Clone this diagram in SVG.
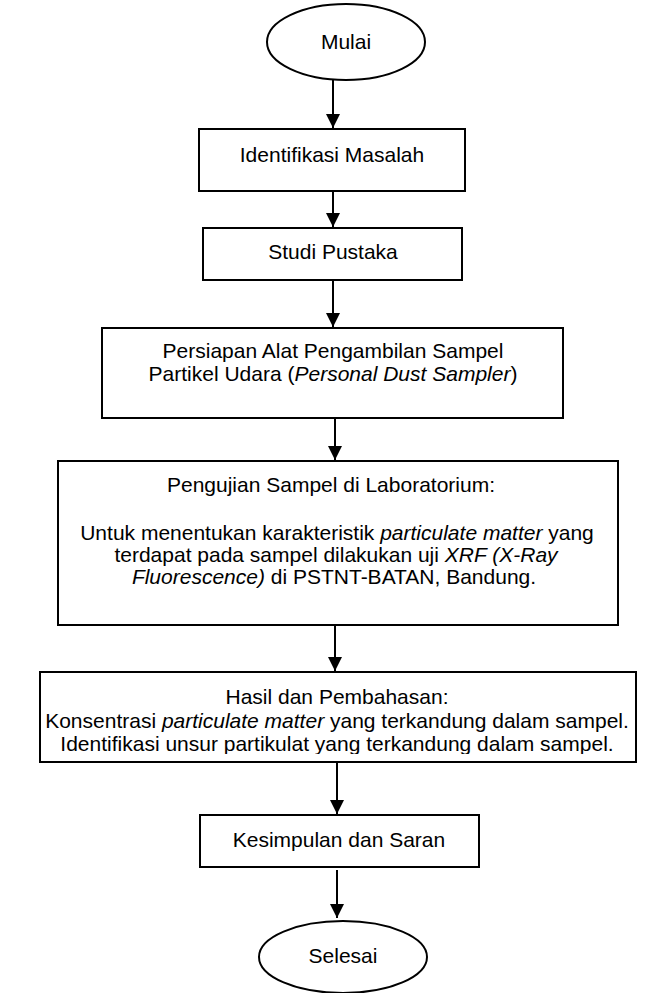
<svg xmlns="http://www.w3.org/2000/svg" width="657" height="993" viewBox="0 0 657 993">
<style>
.s{fill:#fff;stroke:#000;stroke-width:2}
.t{font-family:"Liberation Sans",Arial,sans-serif;font-size:21px;fill:#000;text-anchor:middle}
.c{stroke:#000;stroke-width:2;fill:none}
</style>
<defs>
<marker id="a" viewBox="0 0 14 14" refX="14" refY="7" markerWidth="14" markerHeight="14" markerUnits="userSpaceOnUse" orient="auto">
<path d="M0,0 L14,7 L0,14 Z" fill="#000"/>
</marker>
<clipPath id="clip5"><rect x="40" y="672" width="596" height="82"/></clipPath>
</defs>
<rect width="657" height="993" fill="#fff"/>
<g id="connectors">
<line class="c" x1="333" y1="80" x2="333" y2="128" marker-end="url(#a)"/>
<line class="c" x1="333" y1="191" x2="333" y2="227" marker-end="url(#a)"/>
<line class="c" x1="333" y1="280" x2="333" y2="327" marker-end="url(#a)"/>
<line class="c" x1="335" y1="418" x2="335" y2="460" marker-end="url(#a)"/>
<line class="c" x1="335" y1="626" x2="335" y2="671" marker-end="url(#a)"/>
<line class="c" x1="337" y1="762" x2="337" y2="814" marker-end="url(#a)"/>
<line class="c" x1="337" y1="870" x2="337" y2="918" marker-end="url(#a)"/>
</g>
<g id="mulai">
<ellipse class="s" cx="346" cy="42" rx="79" ry="38"/>
<text class="t" x="346" y="49">Mulai</text>
</g>
<g id="identifikasi">
<rect class="s" x="199" y="129" width="266" height="62"/>
<text class="t" x="332" y="162">Identifikasi Masalah</text>
</g>
<g id="studi">
<rect class="s" x="203" y="228" width="259" height="52"/>
<text class="t" x="333" y="259">Studi Pustaka</text>
</g>
<g id="persiapan">
<rect class="s" x="102" y="328" width="461" height="90"/>
<text class="t" x="333" y="358">Persiapan Alat Pengambilan Sampel</text>
<text class="t" x="333" y="381">Partikel Udara (<tspan font-style="italic">Personal Dust Sampler</tspan>)</text>
</g>
<g id="pengujian">
<rect class="s" x="58" y="461" width="560" height="164"/>
<text class="t" x="331" y="492">Pengujian Sampel di Laboratorium:</text>
<text class="t" x="337" y="540">Untuk menentukan karakteristik <tspan font-style="italic">particulate matter</tspan> yang</text>
<text class="t" x="336" y="562">terdapat pada sampel dilakukan uji <tspan font-style="italic">XRF (X-Ray</tspan></text>
<text class="t" x="334" y="584"><tspan font-style="italic">Fluorescence)</tspan> di  PSTNT-BATAN, Bandung.</text>
</g>
<g id="hasil">
<rect class="s" x="40" y="672" width="596" height="90"/>
<g clip-path="url(#clip5)">
<text class="t" x="337" y="704">Hasil dan Pembahasan:</text>
<text class="t" x="337" y="728">Konsentrasi <tspan font-style="italic">particulate matter</tspan> yang terkandung dalam sampel.</text>
<text class="t" x="337" y="751">Identifikasi unsur partikulat yang terkandung dalam sampel.</text>
</g>
</g>
<g id="kesimpulan">
<rect class="s" x="200" y="815" width="279" height="52"/>
<text class="t" x="339" y="847">Kesimpulan dan Saran</text>
</g>
<g id="selesai">
<ellipse class="s" cx="343" cy="957" rx="84" ry="36"/>
<text class="t" x="343" y="963">Selesai</text>
</g>
</svg>
